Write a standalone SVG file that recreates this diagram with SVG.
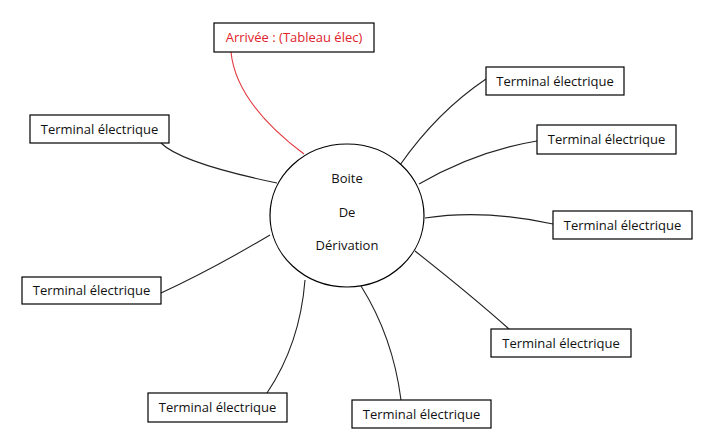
<svg xmlns="http://www.w3.org/2000/svg" width="702" height="441" viewBox="0 0 702 441">
<style>
.box{fill:#fff;stroke:#000;stroke-width:1.2}
.t{font-family:"Open Sans","Liberation Sans",sans-serif;font-size:13px;fill:#111;text-anchor:middle}
.red{fill:#e0242c}
.c{fill:none;stroke:#222;stroke-width:1.1}
.cr{fill:none;stroke:#e0363c;stroke-width:1.1}
</style>
<rect width="702" height="441" fill="#fff"/>
<g id="connectors">
<path class="cr" d="M231,52 Q236,103 304,154"/>
<path class="c" d="M161,143 Q181,163 277,183"/>
<path class="c" d="M161,293 Q211,270 270,235"/>
<path class="c" d="M486,79 Q437,112 400,165"/>
<path class="c" d="M537,141 Q476,151 419,184"/>
<path class="c" d="M553,224 Q484,209 425,218"/>
<path class="c" d="M267,393 Q300,344 305,280"/>
<path class="c" d="M401,400 Q393,337 361,286"/>
<path class="c" d="M509,329 Q472,296 415,251"/>
</g>
<g id="hub">
<ellipse cx="347" cy="215.5" rx="77" ry="71.5" fill="#fff" stroke="#000" stroke-width="1.2"/>
<text class="t" x="347" y="183">Boite</text>
<text class="t" x="347" y="217">De</text>
<text class="t" x="347" y="250">Dérivation</text>
</g>
<g id="arrivee">
<rect class="box" x="214" y="23" width="160" height="29"/>
<text class="t red" x="294" y="42">Arrivée : (Tableau élec)</text>
</g>
<g id="t1">
<rect class="box" x="30" y="115" width="139" height="28"/>
<text class="t" x="99.5" y="134">Terminal électrique</text>
</g>
<g id="t2">
<rect class="box" x="22" y="277" width="139" height="27"/>
<text class="t" x="91.5" y="295">Terminal électrique</text>
</g>
<g id="t3">
<rect class="box" x="486" y="67" width="138" height="28"/>
<text class="t" x="555" y="86">Terminal électrique</text>
</g>
<g id="t4">
<rect class="box" x="537" y="125" width="139" height="29"/>
<text class="t" x="606.5" y="144">Terminal électrique</text>
</g>
<g id="t5">
<rect class="box" x="553" y="211" width="139" height="28"/>
<text class="t" x="622.5" y="230">Terminal électrique</text>
</g>
<g id="t6">
<rect class="box" x="148" y="393" width="139" height="29"/>
<text class="t" x="217.5" y="412">Terminal électrique</text>
</g>
<g id="t7">
<rect class="box" x="352" y="400" width="139" height="28"/>
<text class="t" x="421.5" y="419">Terminal électrique</text>
</g>
<g id="t8">
<rect class="box" x="491" y="329" width="140" height="28"/>
<text class="t" x="561" y="348">Terminal électrique</text>
</g>
</svg>
